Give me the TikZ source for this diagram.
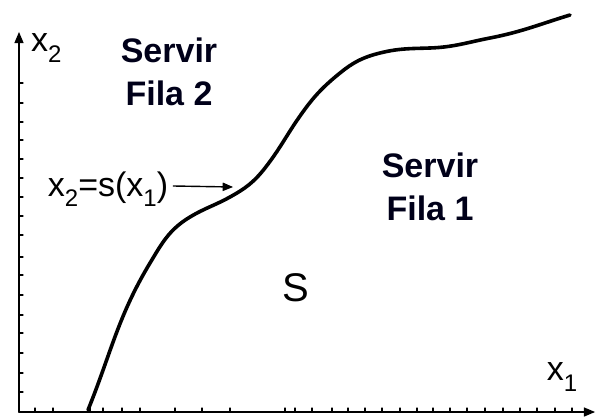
\documentclass[tikz,border=0pt]{standalone}
\usepackage{fontspec}
\setmainfont{Liberation Sans}
\usepackage{tikz}
\usetikzlibrary{arrows}

\newcommand{\lowidx}[1]{\raisebox{-.3em}{\fontsize{24}{24}\selectfont #1}}

\tikzset{
  region/.style={font=\fontsize{34}{43}\selectfont\bfseries,align=center,text=black!90!blue},
  lettering/.style={font=\fontsize{34}{34}\selectfont,inner sep=0pt}
}

\begin{document}
\begin{tikzpicture}[line cap=round,line join=round,>=triangle 45,x=1pt,y=1pt]
      \useasboundingbox (0,0) rectangle (596,416);
      \coordinate (O) at (19,4);
      \coordinate (xtip) at (595,4);
      \coordinate (ytip) at (19,384);
      % axes
      \draw[->,line width=1.6pt] (O) -- (xtip);
      \draw[->,line width=1.6pt] (O) -- (ytip);
      \foreach \y in {24,43,63,83,101,121,141,159,181,200,219,238,257,276,294,313,333}
      \draw[shift={(19,\y)},line width=1.1pt] (0pt,0pt) -- (4pt,0pt);
      \foreach \x in {35,53,90,103,122,140,175,202,230,285,295,312,332,348,365,382,400,417,433,450,467,485,503,520,537,555,572}
      \draw[shift={(\x,4)},line width=1.1pt] (0pt,0pt) -- (0pt,4pt);
      \node[lettering,anchor=west] (x2) at (31,368) {x\lowidx{2}};
      \node[lettering] (x1) at (562,39) {x\lowidx{1}};
      % switching curve
      \draw[line width=3.6pt] (88,6) to[out=68,in=239] (150,153)
        to[out=59,in=211] (190,199) to[out=31,in=209] (230,219)
        to[out=29,in=232] (265,248) to[out=52,in=235] (300,300)
        to[out=55,in=219] (340,343) to[out=39,in=194] (380,363)
        to[out=14,in=182] (430,368) to[out=2,in=191] (490,378)
        to[out=11,in=197] (570,401);
      \node[lettering] (curve) at (108,227) {x\lowidx{2}=s(x\lowidx{1})};
      \coordinate (cv) at (233,229);
      \draw[->,line width=1.4pt] ([xshift=5pt,yshift=3pt]curve.east) -- (cv);
      \node[region] (fila2) at (169,344) {Servir\\Fila 2};
      \node[region] (fila1) at (430,229) {Servir\\Fila 1};
      \node[font=\fontsize{40}{40}\selectfont] (S) at (296,128) {S};
\end{tikzpicture}
\end{document}
